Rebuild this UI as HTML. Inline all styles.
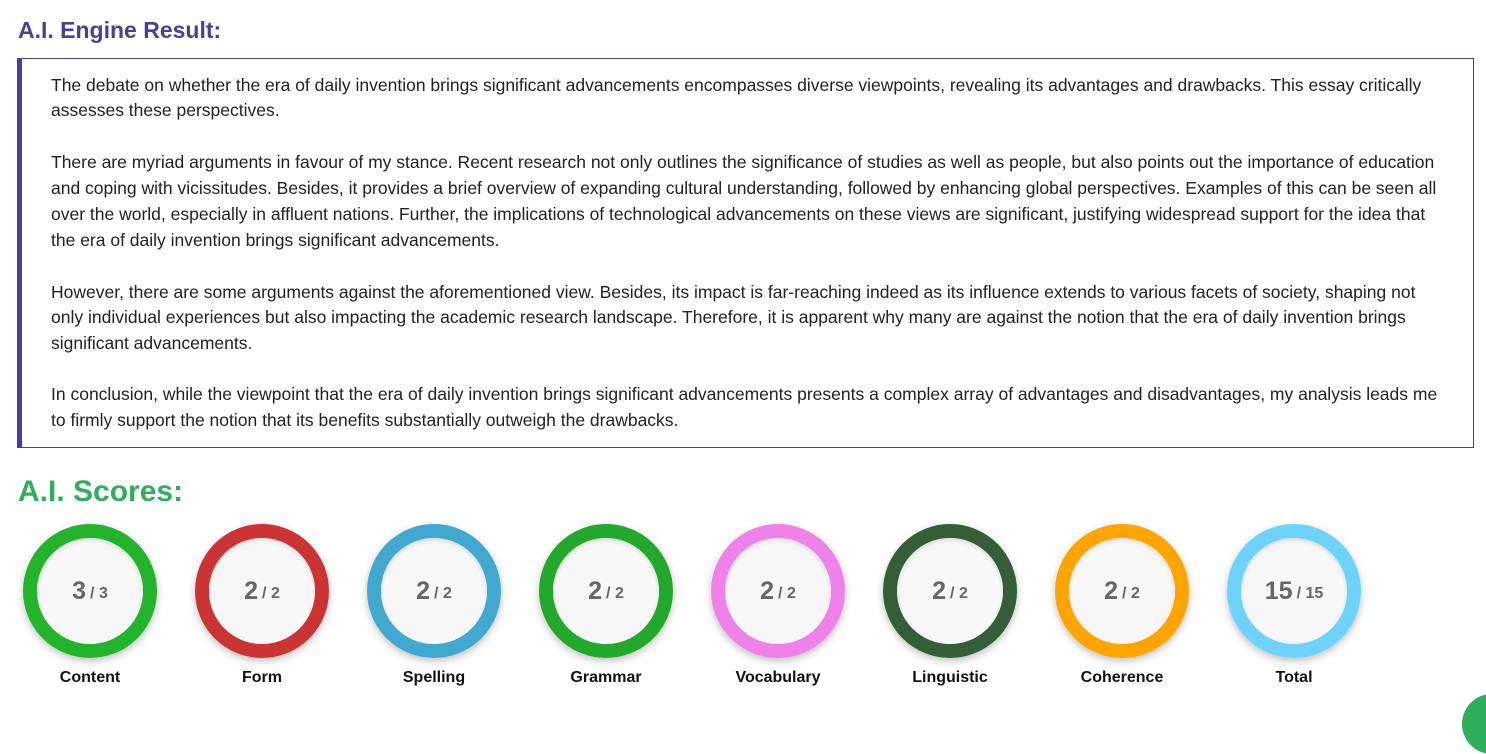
<!DOCTYPE html>
<html><head><meta charset="utf-8"><style>
body{margin:0;width:1486px;height:700px;background:#fff;font-family:"Liberation Sans",sans-serif;position:relative;overflow:hidden}
h1{position:absolute;margin:0;left:18px;top:17px;font-size:23px;font-weight:bold;color:#4a3f98}
h2{position:absolute;margin:0;left:18px;top:475px;font-size:30px;font-weight:bold;color:#2fae5d}
.box{position:absolute;left:17px;top:58px;width:1451px;height:388px;border:1px solid #4a3f98;border-left:5px solid #4a3f98}
.l{position:absolute;left:51px;white-space:nowrap;font-size:17.5px;color:#222;line-height:20px}
.c{position:absolute;top:524px;width:134px;height:134px;border-radius:50%;box-sizing:border-box;border:14px solid;box-shadow:0 3px 8px rgba(0,0,0,.25)}
.in{position:absolute;inset:0;border-radius:50%;background:#f7f7f7;box-shadow:inset 0 2px 4px rgba(0,0,0,.12);display:flex;align-items:center;justify-content:center;color:#666;font-weight:bold}
.in b{font-size:25px}.in span{font-size:16px;margin-left:4px;margin-top:6px;font-weight:bold}
.t{position:absolute;top:669px;width:172px;text-align:center;font-size:16px;font-weight:bold;color:#111}
</style></head><body>
<h1>A.I. Engine Result:</h1>
<div class="box"></div>
<div class="l" style="top:75px">The debate on whether the era of daily invention brings significant advancements encompasses diverse viewpoints, revealing its advantages and drawbacks. This essay critically</div>
<div class="l" style="top:100px">assesses these perspectives.</div>
<div class="l" style="top:152px">There are myriad arguments in favour of my stance. Recent research not only outlines the significance of studies as well as people, but also points out the importance of education</div>
<div class="l" style="top:178px">and coping with vicissitudes. Besides, it provides a brief overview of expanding cultural understanding, followed by enhancing global perspectives. Examples of this can be seen all</div>
<div class="l" style="top:204px">over the world, especially in affluent nations. Further, the implications of technological advancements on these views are significant, justifying widespread support for the idea that</div>
<div class="l" style="top:230px">the era of daily invention brings significant advancements.</div>
<div class="l" style="top:282px">However, there are some arguments against the aforementioned view. Besides, its impact is far-reaching indeed as its influence extends to various facets of society, shaping not</div>
<div class="l" style="top:307px">only individual experiences but also impacting the academic research landscape. Therefore, it is apparent why many are against the notion that the era of daily invention brings</div>
<div class="l" style="top:333px">significant advancements.</div>
<div class="l" style="top:384px">In conclusion, while the viewpoint that the era of daily invention brings significant advancements presents a complex array of advantages and disadvantages, my analysis leads me</div>
<div class="l" style="top:410px">to firmly support the notion that its benefits substantially outweigh the drawbacks.</div>
<h2>A.I. Scores:</h2>

<div class="c" style="left:23px;border-color:#22b42a"><div class="in"><b>3</b><span>/ 3</span></div></div>
<div class="c" style="left:195px;border-color:#cc3333"><div class="in"><b>2</b><span>/ 2</span></div></div>
<div class="c" style="left:367px;border-color:#41a8cf"><div class="in"><b>2</b><span>/ 2</span></div></div>
<div class="c" style="left:539px;border-color:#22a82a"><div class="in"><b>2</b><span>/ 2</span></div></div>
<div class="c" style="left:711px;border-color:#ee82e8"><div class="in"><b>2</b><span>/ 2</span></div></div>
<div class="c" style="left:883px;border-color:#345e38"><div class="in"><b>2</b><span>/ 2</span></div></div>
<div class="c" style="left:1055px;border-color:#ffa500"><div class="in"><b>2</b><span>/ 2</span></div></div>
<div class="c" style="left:1227px;border-color:#6dd3fb"><div class="in"><b>15</b><span>/ 15</span></div></div>

<div class="t" style="left:4px">Content</div>
<div class="t" style="left:176px">Form</div>
<div class="t" style="left:348px">Spelling</div>
<div class="t" style="left:520px">Grammar</div>
<div class="t" style="left:692px">Vocabulary</div>
<div class="t" style="left:864px">Linguistic</div>
<div class="t" style="left:1036px">Coherence</div>
<div class="t" style="left:1208px">Total</div>
<div style="position:absolute;left:1462px;top:694px;width:60px;height:60px;border-radius:50%;background:#2fae5d"></div>
</body></html>
